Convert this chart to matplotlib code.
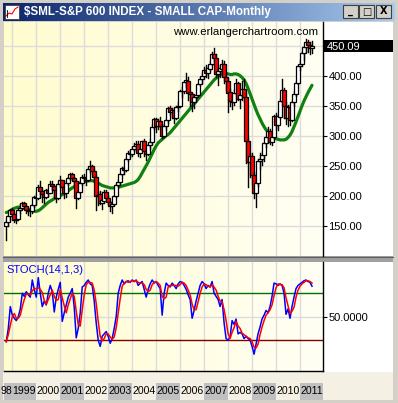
import numpy as np
import matplotlib
matplotlib.use("Agg")
import matplotlib.pyplot as plt
from matplotlib.patches import Rectangle

W, H = 398, 403

# month index: Jan 1999 = 0, first candle is Oct 1998
first_month = -3

opens = [150, 157, 166,
         176, 170, 160, 162, 176, 180, 188, 183, 176, 174, 175, 185,
         198, 196, 214, 208, 203, 198, 210, 205, 220, 216, 210, 196,
         219, 226, 214, 205, 221, 230, 236, 230, 224, 196, 207, 222,
         232, 230, 226, 245, 250, 242, 232, 200, 202, 188, 192, 206,
         197, 190, 183, 186, 200, 218, 223, 236, 246, 243, 262, 271,
         270, 278, 283, 286, 272, 278, 291, 274, 270, 284, 290, 315,
         328, 316, 324, 316, 300, 316, 326, 346, 340, 343, 330, 348,
         350, 374, 375, 390, 392, 372, 370, 356, 364, 368, 386, 395,
         400, 410, 405, 412, 420, 436, 430, 403, 408, 412, 420, 398,
         392, 372, 358, 356, 372, 388, 362, 368, 378, 365, 292, 256,
         266, 234, 204, 222, 258, 262, 268, 288, 298, 308, 290, 298,
         333, 318, 332, 358, 376, 350, 330, 348, 326, 356, 370, 388,
         416, 420, 438, 448, 456, 452, 446]
highs = [160, 168, 178,
         180, 172, 166, 178, 186, 190, 190, 185, 180, 178, 186, 200,
         205, 218, 225, 212, 206, 212, 212, 224, 224, 218, 214, 222,
         233, 226, 216, 224, 232, 238, 238, 232, 226, 210, 224, 234,
         236, 232, 246, 258, 252, 244, 234, 206, 208, 206, 210, 210,
         200, 192, 190, 202, 220, 228, 238, 248, 250, 264, 274, 276,
         282, 288, 292, 292, 282, 292, 294, 278, 286, 294, 318, 330,
         330, 328, 332, 320, 318, 328, 348, 350, 346, 346, 350, 356,
         376, 382, 392, 404, 398, 374, 372, 366, 370, 388, 398, 404,
         414, 418, 416, 424, 440, 446, 436, 412, 418, 426, 424, 404,
         396, 378, 366, 376, 394, 390, 372, 392, 394, 372, 296, 272,
         272, 240, 226, 262, 272, 274, 290, 300, 314, 312, 304, 334,
         338, 336, 362, 394, 380, 356, 352, 352, 360, 374, 392, 418,
         426, 442, 450, 462, 460, 456, 458]
lows = [126, 150, 160,
        166, 156, 154, 160, 172, 178, 180, 172, 168, 166, 172, 182,
        186, 194, 198, 190, 188, 196, 200, 204, 210, 200, 190, 194,
        214, 210, 196, 198, 218, 226, 226, 218, 179, 194, 205, 218,
        224, 218, 224, 240, 236, 224, 176, 184, 186, 178, 188, 194,
        186, 174, 172, 184, 198, 214, 220, 234, 236, 242, 258, 264,
        266, 274, 276, 266, 264, 276, 266, 260, 268, 278, 286, 312,
        306, 312, 314, 296, 298, 310, 322, 334, 330, 322, 328, 342,
        348, 364, 372, 382, 360, 350, 342, 346, 358, 364, 384, 388,
        396, 398, 396, 408, 418, 424, 398, 384, 398, 406, 388, 376,
        340, 350, 344, 352, 370, 360, 346, 360, 356, 254, 215, 232,
        220, 196, 182, 216, 244, 252, 258, 282, 290, 286, 284, 294,
        312, 310, 330, 356, 330, 320, 316, 318, 324, 350, 366, 386,
        410, 416, 426, 440, 440, 436, 438]
closes = [157, 166, 176,
          170, 160, 162, 176, 180, 188, 183, 176, 174, 175, 185, 198,
          196, 214, 208, 203, 198, 210, 205, 220, 216, 210, 196, 219,
          226, 214, 205, 221, 230, 236, 230, 224, 196, 207, 222, 232,
          230, 226, 245, 250, 242, 232, 200, 202, 188, 192, 206, 197,
          190, 183, 186, 200, 218, 223, 236, 246, 243, 262, 271, 270,
          278, 283, 286, 272, 278, 291, 274, 270, 284, 290, 315, 328,
          316, 324, 316, 300, 316, 326, 346, 340, 343, 330, 348, 350,
          374, 375, 390, 392, 372, 370, 356, 364, 368, 386, 395, 400,
          410, 405, 412, 420, 436, 430, 403, 408, 412, 420, 398, 392,
          372, 358, 356, 372, 388, 362, 368, 378, 365, 292, 256, 266,
          234, 204, 222, 258, 262, 268, 288, 298, 308, 290, 298, 333,
          318, 332, 358, 376, 350, 330, 348, 326, 356, 370, 388, 416,
          420, 438, 448, 456, 452, 446, 450.09]

# green moving average
ma_line = [172, 173, 175,
           177, 179, 180, 181, 181, 180, 179, 178, 177, 176, 175, 174,
           174, 175, 177, 180, 183, 186, 189, 191, 193, 195, 197, 199,
           200, 202, 204, 206, 208, 211, 213, 215, 217, 219, 221, 222,
           223, 224, 225, 225, 225, 224, 223, 221, 219, 217, 216, 215,
           214, 213, 213, 213, 214, 214, 215, 216, 217, 218, 219, 220,
           221, 222, 224, 227, 232, 238, 244, 250, 256, 263, 270, 277,
           283, 288, 291, 294, 297, 300, 302, 305, 309, 313, 317, 321,
           325, 329, 333, 337, 341, 345, 349, 353, 357, 361, 365, 369,
           373, 377, 381, 385, 389, 393, 396, 399, 401, 403, 404, 404,
           403, 402, 402, 403, 403, 402, 400, 397, 393, 387, 379, 370,
           361, 352, 343, 335, 328, 321, 315, 310, 306, 302, 299, 297,
           295, 294, 293, 293, 293, 294, 297, 301, 307, 315, 323, 332,
           341, 350, 358, 365, 372, 378, 384]

# STOCH(14,1,3): %K (blue) and %D (red)
stoch_k = [18, 35, 63,
           52, 48, 45, 50, 60, 80, 76, 82, 78, 75, 97, 85,
           75, 100, 80, 63, 70, 65, 80, 90, 82, 56, 75, 85,
           94, 44, 55, 65, 75, 80, 86, 62, 23, 35, 55, 88,
           90, 94, 97, 92, 90, 70, 42, 20, 12, 25, 28, 31,
           25, 16, 22, 35, 50, 80, 90, 97, 92, 95, 96, 94,
           97, 95, 97, 90, 93, 95, 85, 75, 85, 92, 97, 93,
           95, 90, 86, 52, 80, 93, 90, 88, 93, 90, 86, 92,
           95, 94, 90, 85, 78, 72, 48, 58, 70, 80, 90, 95,
           92, 86, 90, 88, 95, 80, 76, 72, 63, 72, 42, 22,
           20, 24, 45, 40, 47, 28, 30, 28, 22, 25, 22, 20,
           12, 2, 15, 28, 37, 47, 52, 58, 55, 63, 76, 93,
           92, 90, 92, 90, 80, 53, 60, 48, 63, 75, 86, 90,
           92, 94, 96, 97, 95, 94, 89]
stoch_d = [18, 27, 39,
           50, 54, 48, 48, 52, 63, 72, 79, 79, 78, 83, 86,
           86, 87, 85, 81, 71, 66, 72, 78, 84, 76, 71, 72,
           85, 74, 64, 55, 65, 73, 80, 76, 57, 40, 38, 59,
           78, 91, 94, 94, 93, 84, 67, 44, 25, 19, 22, 28,
           28, 24, 21, 24, 36, 55, 73, 89, 93, 95, 94, 95,
           96, 95, 96, 94, 93, 93, 91, 85, 82, 84, 91, 94,
           95, 93, 90, 76, 73, 75, 88, 90, 90, 90, 90, 89,
           91, 94, 93, 90, 84, 78, 66, 59, 59, 69, 80, 88,
           92, 91, 89, 88, 91, 88, 84, 76, 70, 69, 59, 45,
           28, 22, 30, 36, 44, 38, 35, 29, 27, 25, 23, 22,
           18, 11, 10, 15, 27, 37, 45, 52, 55, 59, 65, 77,
           87, 92, 91, 91, 87, 74, 64, 54, 57, 62, 75, 84,
           89, 92, 94, 96, 96, 95, 93]

years = ['1998', '1999', '2000', '2001', '2002', '2003', '2004', '2005',
         '2006', '2007', '2008', '2009', '2010', '2011']
price_ticks = [150, 200, 250, 300, 350, 400]
last_price = 450.09

months = np.arange(first_month, first_month + len(closes))
year_start = [(int(y) - 1999) * 12 for y in years]

x_lo, x_hi = -4.15, 155.5
FONT = 'Liberation Sans'

fig = plt.figure(figsize=(W / 100, H / 100), dpi=100)
fig.patch.set_facecolor('#d4d0c8')


def box(left, top, right, bottom):
    return [left / W, 1 - bottom / H, (right - left) / W, (bottom - top) / H]


# ---- window chrome ----
bg = fig.add_axes([0, 0, 1, 1], zorder=0)
bg.set_xlim(0, W)
bg.set_ylim(H, 0)
bg.axis('off')

grad = np.linspace(0, 1, 256)[None, :, None]
c0 = np.array([10, 36, 106]) / 255
c1 = np.array([166, 202, 240]) / 255
bar_img = c0 + (c1 - c0) * grad
bg.imshow(bar_img, extent=(3, 395, 21, 3), aspect='auto', zorder=1)
bg.text(24, 12, '$SML-S&P 600 INDEX - SMALL CAP-Monthly', color='white',
        fontsize=8.4, fontweight='bold', family=FONT, va='center', ha='left', zorder=3)
bg.add_patch(Rectangle((5, 5), 14, 14, facecolor='white', edgecolor='#404040', lw=0.6, zorder=2))
bg.plot([6, 9, 12, 15, 18], [16, 13, 14, 9, 7], color='red', lw=0.8, zorder=3)
bg.plot([7, 7], [10, 17], color='black', lw=0.6, zorder=3)
for bx0, sym in [(343, '_'), (359, '\u25a1'), (376, 'X')]:
    bg.add_patch(Rectangle((bx0, 5), 15, 13, facecolor='#d4d0c8', edgecolor='#404040', lw=0.8, zorder=2))
    bg.text(bx0 + 7.5, 11.5, sym, fontsize=7, fontweight='bold', family='DejaVu Sans',
            ha='center', va='center', zorder=3)

# white right-scale areas, separator and bottom strip
bg.add_patch(Rectangle((323, 22), 70, 234, facecolor='white', edgecolor='none', zorder=1))
bg.add_patch(Rectangle((323, 262), 70, 110, facecolor='white', edgecolor='none', zorder=1))
bg.add_patch(Rectangle((3, 256), 390, 6, facecolor='#a0a0a0', edgecolor='none', zorder=1))
bg.plot([3, 393], [257, 257], color='#606060', lw=0.8, zorder=2)
bg.add_patch(Rectangle((3, 372), 390, 28, facecolor='#f4f1e4', edgecolor='none', zorder=1))
# current value box on the price scale
bg.add_patch(Rectangle((324, 40), 69, 12, facecolor='black', edgecolor='none', zorder=3))
bg.text(327, 46.5, '%.2f' % last_price, color='white', fontsize=8, family=FONT,
        ha='left', va='center', zorder=4)


def paint_background(ax, y0, y1):
    g = np.linspace(0, 1, 256)[None, :, None]
    left = np.array([255, 252, 206]) / 255
    right = np.array([255, 255, 244]) / 255
    img = left + (right - left) * g
    ax.imshow(img, extent=(x_lo, x_hi, y0, y1), aspect='auto', zorder=0)


# ---- price panel ----
ax = fig.add_axes(box(4, 22, 323, 256), zorder=2)
y_lo, y_hi = 99.5, 489.5
paint_background(ax, y_lo, y_hi)
ax.set_xlim(x_lo, x_hi)
ax.set_ylim(y_lo, y_hi)
for xs in year_start:
    ax.axvline(xs, color='#dcdcdc', lw=1.0, zorder=1)
for yv in price_ticks + [450]:
    ax.axhline(yv, color='#dcdcdc', lw=1.0, zorder=1)

ax.plot(months, ma_line, color='#108010', lw=2.3, zorder=2, solid_capstyle='round')

body_w = 2.2
for i, m in enumerate(months):
    o, h, l, c = opens[i], highs[i], lows[i], closes[i]
    z = 3 + i * 0.01
    ax.plot([m, m], [l, h], color='black', lw=1.0, zorder=z)
    lo_b, hi_b = min(o, c), max(o, c)
    face = 'white' if c >= o else '#ff0000'
    ax.add_patch(Rectangle((m - body_w / 2, lo_b), body_w, max(hi_b - lo_b, 0.8),
                           facecolor=face, edgecolor='black', lw=0.9, zorder=z + 0.005))

ax.yaxis.tick_right()
ax.set_yticks(price_ticks)
ax.set_yticklabels(['%.2f' % v for v in price_ticks], family=FONT, fontsize=8)
ax.tick_params(axis='y', direction='out', length=3, width=0.8, pad=1, colors='black')
ax.set_xticks([])
for side in ['top', 'left', 'bottom']:
    ax.spines[side].set_visible(False)
ax.spines['right'].set_linewidth(1.0)
ax.text(0.985, 0.958, 'www.erlangerchartroom.com', transform=ax.transAxes, ha='right',
        va='center', fontsize=8.2, family=FONT, color='black', zorder=10)

# ---- stochastic panel ----
sx = fig.add_axes(box(4, 262, 323, 371), zorder=2)
s_lo, s_hi = -19.5, 120
paint_background(sx, s_lo, s_hi)
sx.set_xlim(x_lo, x_hi)
sx.set_ylim(s_lo, s_hi)
for xs in year_start:
    sx.axvline(xs, color='#dcdcdc', lw=1.0, zorder=1)
sx.axhline(50, color='#dcdcdc', lw=1.0, zorder=1)
sx.axhline(80, color='#007000', lw=1.0, zorder=2)
sx.axhline(20, color='#800000', lw=1.0, zorder=2)
sx.plot(months, stoch_k, color='#0000ff', lw=1.1, zorder=3)
sx.plot(months, stoch_d, color='#ff0000', lw=1.1, zorder=4)
sx.yaxis.tick_right()
sx.set_yticks([50])
sx.set_yticklabels(['50.0000'], family=FONT, fontsize=8)
sx.tick_params(axis='y', direction='out', length=3, width=0.8, pad=1, colors='black')
sx.set_xticks([])
for side in ['top', 'left']:
    sx.spines[side].set_visible(False)
sx.spines['right'].set_linewidth(1.0)
sx.spines['bottom'].set_linewidth(1.0)
sx.text(0.008, 0.93, 'STOCH(14,1,3)', transform=sx.transAxes, ha='left', va='center',
        fontsize=8, family=FONT, color='#0000ff')

# ---- year labels ----
lab = fig.add_axes(box(4, 383, 323, 400), zorder=2)
lab.set_xlim(x_lo, x_hi)
lab.set_ylim(0, 1)
lab.axis('off')
for yr, xs in zip(years, year_start):
    shade = '#c0c0c0' if (int(yr) % 2 == 1 or yr == '1998') else '#f4f1e4'
    lab.add_patch(Rectangle((max(xs, x_lo), 0), xs + 12 - max(xs, x_lo), 1,
                            facecolor=shade, edgecolor='none', zorder=1))
    if xs < x_lo:
        # partial first year: only the tail of the label fits
        lab.text(xs + 11.9, 0.5, yr[2:], ha='right', va='center', fontsize=7.6,
                 family=FONT, zorder=2)
    else:
        lab.text(xs + 0.2, 0.5, yr, ha='left', va='center', fontsize=7.6, family=FONT, zorder=2)

fig.savefig('out.png', dpi=100, facecolor=fig.get_facecolor())
